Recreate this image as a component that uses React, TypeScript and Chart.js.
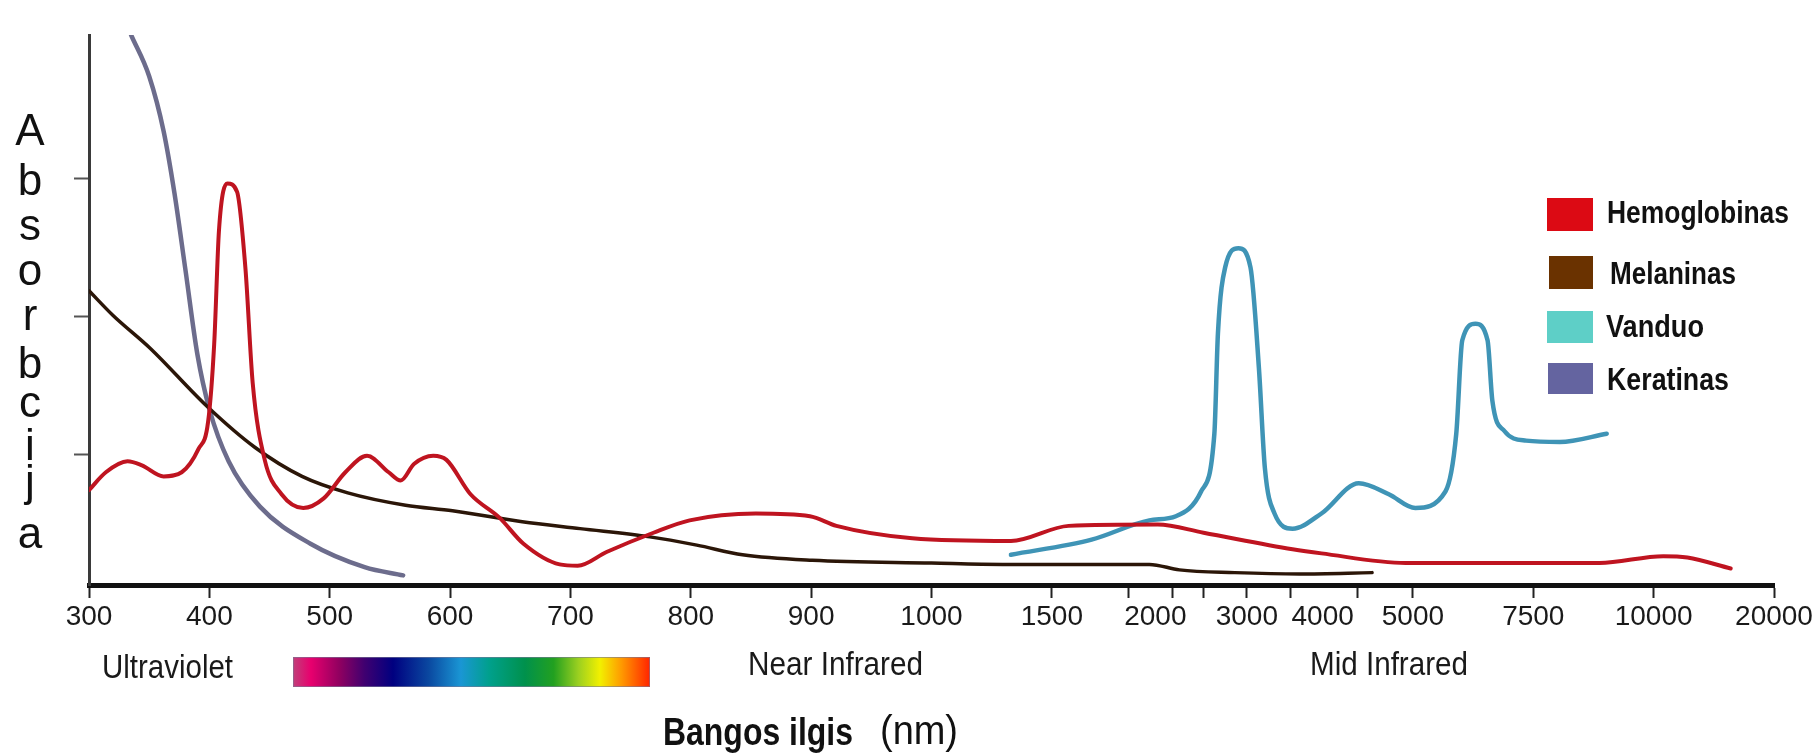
import React, { useEffect, useRef } from 'react';
import { Chart, registerables } from 'chart.js';

Chart.register(...registerables);

// ---- x axis: tick labels (nm) and where each label sits on the (non-uniform) axis ----
const axisWavelengths = [300, 400, 500, 600, 700, 800, 900, 1000, 1500, 2000, 3000, 4000, 5000, 7500, 10000, 20000];
const axisLabelPositions = [0, 1, 2, 3, 4, 5, 6, 7, 8, 8.86, 9.62, 10.25, 11, 12, 13, 14];
const axisTickMarkPositions = [0, 1, 2, 3, 4, 5, 6, 7, 8, 8.64, 9.006, 9.26, 9.62, 9.98, 10.54, 11, 12, 13, 14];
const yTickMarks = [0.95, 1.95, 2.96];

// ---- series ----
const seriesNames = ['Hemoglobinas', 'Melaninas', 'Vanduo', 'Keratinas'];
const lineColors = ['#bf1420', '#2b1608', '#3f94b6', '#6c6c8c'];
const legendColors = ['#dc0a14', '#6a3200', '#5ecfc7', '#6464a0'];

const hemoglobinNm = [300, 314, 332, 344, 362, 377, 391, 399, 404, 408, 415, 423, 430, 436, 446, 460, 478, 495, 513, 531, 549, 559, 570, 586, 597, 617, 641, 661, 691, 706, 730, 769, 799, 854, 899, 921, 984, 1330, 1581, 2026, 2526, 3603, 3984, 4920, 7525, 8875, 10800, 12800, 16400];
const hemoglobinAbs = [0.69, 0.82, 0.90, 0.87, 0.79, 0.82, 0.99, 1.19, 1.75, 2.58, 2.92, 2.86, 2.30, 1.47, 0.91, 0.66, 0.56, 0.63, 0.82, 0.94, 0.82, 0.76, 0.88, 0.94, 0.91, 0.66, 0.49, 0.30, 0.15, 0.14, 0.24, 0.38, 0.47, 0.52, 0.50, 0.43, 0.34, 0.32, 0.43, 0.44, 0.38, 0.26, 0.23, 0.16, 0.16, 0.16, 0.21, 0.20, 0.12];

const melaninNm = [300, 320, 351, 398, 438, 477, 515, 563, 602, 660, 708, 766, 805, 843, 901, 1000, 1295, 1692, 1971, 2263, 2868, 3698, 4547];
const melaninAbs = [2.14, 1.96, 1.72, 1.30, 1.00, 0.79, 0.67, 0.58, 0.54, 0.46, 0.41, 0.35, 0.29, 0.22, 0.18, 0.16, 0.15, 0.15, 0.15, 0.11, 0.09, 0.08, 0.09];

const waterNm = [1330, 1692, 1971, 2224, 2500, 2645, 2684, 2763, 2908, 3048, 3159, 3238, 3365, 3603, 3984, 4400, 4733, 5050, 5675, 5900, 6025, 6300, 6550, 6650, 6900, 7350, 8050, 9025];
const waterAbs = [0.22, 0.33, 0.47, 0.50, 0.68, 1.10, 1.83, 2.31, 2.45, 2.31, 1.58, 0.85, 0.52, 0.41, 0.52, 0.74, 0.66, 0.56, 0.68, 1.10, 1.78, 1.90, 1.78, 1.34, 1.12, 1.05, 1.04, 1.10];

const keratinNm = [335, 350, 362, 371, 380, 390, 400, 416, 442, 484, 529, 561];
const keratinAbs = [4.0, 3.70, 3.30, 2.85, 2.30, 1.68, 1.28, 0.90, 0.57, 0.30, 0.13, 0.07];

const yAxisTitle = 'Absorbcija';
const regionLabels = ['Ultraviolet', 'Near Infrared', 'Mid Infrared'];
const xAxisTitle = 'Bangos ilgis';
const xAxisUnit = '(nm)';

function nmToAxis(nm: number): number {
  const n = axisWavelengths.length;
  for (let i = 0; i < n - 1; i++) {
    if (nm <= axisWavelengths[i + 1] || i === n - 2) {
      const a = axisWavelengths[i], b = axisWavelengths[i + 1];
      const pa = axisLabelPositions[i], pb = axisLabelPositions[i + 1];
      return pa + ((nm - a) / (b - a)) * (pb - pa);
    }
  }
  return 0;
}

type XTick = { value: number; label: string; mark: boolean };
const xTickList: XTick[] = (() => {
  const m = new Map<number, XTick>();
  axisTickMarkPositions.forEach((p) => m.set(p, { value: p, label: '', mark: true }));
  axisLabelPositions.forEach((p, i) => {
    const e = m.get(p);
    if (e) e.label = String(axisWavelengths[i]);
    else m.set(p, { value: p, label: String(axisWavelengths[i]), mark: false });
  });
  return Array.from(m.values()).sort((a, b) => a.value - b.value);
})();

function fontAvailable(name: string): boolean {
  const c = document.createElement('canvas').getContext('2d');
  if (!c) return false;
  const s = 'Hemoglobinas 0123456789 Wmi';
  c.font = '72px monospace';
  const a = c.measureText(s).width;
  c.font = `72px '${name}', monospace`;
  const b = c.measureText(s).width;
  c.font = '72px serif';
  const d = c.measureText(s).width;
  c.font = `72px '${name}', serif`;
  const e = c.measureText(s).width;
  return a !== b || d !== e;
}

const SANS = "'Liberation Sans', Arial, sans-serif";

function drawFitted(ctx: CanvasRenderingContext2D, text: string, left: number, baseline: number, width: number, font: string, color: string) {
  ctx.save();
  ctx.font = font;
  ctx.fillStyle = color;
  ctx.textAlign = 'left';
  ctx.textBaseline = 'alphabetic';
  const w = ctx.measureText(text).width;
  ctx.translate(left, baseline);
  ctx.scale(width / w, 1);
  ctx.fillText(text, 0, 0);
  ctx.restore();
}

const decorPlugin = {
  id: 'decor',
  afterDraw(chart: any) {
    const ctx: CanvasRenderingContext2D = chart.ctx;
    ctx.save();

    // vertical y-axis title, one letter per line
    const letterBaselines = [145, 195, 240, 285, 330, 378, 417, 460, 496, 548];
    ctx.font = `44px ${SANS}`;
    ctx.fillStyle = '#111';
    ctx.textAlign = 'center';
    ctx.textBaseline = 'alphabetic';
    yAxisTitle.split('').forEach((ch, i) => ctx.fillText(ch, 30, letterBaselines[i]));

    // region labels
    const regionBoxes = [
      [102, 678, 131],
      [748, 675, 175],
      [1310, 675, 158],
    ];
    regionLabels.forEach((t, i) => {
      const [l, b, w] = regionBoxes[i];
      drawFitted(ctx, t, l, b, w, `34px ${SANS}`, '#1a1a1a');
    });

    // visible-spectrum bar
    const bx = 293, by = 657, bw = 357, bh = 30;
    const g = ctx.createLinearGradient(bx, 0, bx + bw, 0);
    const stops: [number, string][] = [
      [0, '#c0407a'], [0.05, '#e8006e'], [0.13, '#900060'], [0.2, '#400070'], [0.28, '#000080'],
      [0.38, '#0a48a0'], [0.47, '#1a96d4'], [0.55, '#00a08c'], [0.65, '#00914c'], [0.73, '#22a020'],
      [0.8, '#9cd020'], [0.86, '#f2f000'], [0.92, '#ff9a00'], [1, '#ff2400'],
    ];
    stops.forEach(([o, c]) => g.addColorStop(o, c));
    ctx.fillStyle = g;
    ctx.fillRect(bx, by, bw, bh);
    ctx.strokeStyle = 'rgba(120,120,150,0.6)';
    ctx.lineWidth = 1;
    ctx.strokeRect(bx + 0.5, by + 0.5, bw - 1, bh - 1);

    // x-axis title
    drawFitted(ctx, xAxisTitle, 663, 745, 190, `bold 38px ${SANS}`, '#111');
    drawFitted(ctx, xAxisUnit, 880, 744, 78, `40px ${SANS}`, '#111');

    // legend
    const legendRows = [
      { box: [1547, 198, 46, 33], text: [1607, 223, 182] },
      { box: [1549, 256, 44, 33], text: [1610, 284, 126] },
      { box: [1547, 311, 46, 32], text: [1606, 337, 98] },
      { box: [1548, 363, 45, 31], text: [1607, 390, 122] },
    ];
    legendRows.forEach((r, i) => {
      const [x, y, w, h] = r.box;
      ctx.fillStyle = legendColors[i];
      ctx.fillRect(x, y, w, h);
      const [tl, tb, tw] = r.text;
      drawFitted(ctx, seriesNames[i], tl, tb, tw, `bold 31px ${SANS}`, '#111');
    });

    ctx.restore();
  },
};

export default function App() {
  const canvasRef = useRef<HTMLCanvasElement | null>(null);

  useEffect(() => {
    if (!canvasRef.current) return;
    const narrow = fontAvailable('Liberation Sans Narrow');
    const tickFont = narrow
      ? { family: "'Liberation Sans Narrow'", size: 35 }
      : { family: SANS, size: 28 };

    const series = [
      [hemoglobinNm, hemoglobinAbs, 4],
      [melaninNm, melaninAbs, 3.5],
      [waterNm, waterAbs, 4.5],
      [keratinNm, keratinAbs, 4.5],
    ] as [number[], number[], number][];

    const chart = new Chart(canvasRef.current, {
      type: 'line',
      data: {
        datasets: series.map(([nm, abs, w], i) => ({
          label: seriesNames[i],
          data: nm.map((n, k) => ({ x: nmToAxis(n), y: abs[k] })),
          borderColor: lineColors[i],
          backgroundColor: legendColors[i],
          borderWidth: w,
          pointRadius: 0,
          cubicInterpolationMode: 'monotone' as const,
          borderCapStyle: 'round' as const,
          borderJoinStyle: 'round' as const,
          fill: false,
        })),
      },
      options: {
        animation: false,
        responsive: true,
        maintainAspectRatio: false,
        events: [],
        layout: { padding: { left: 74, right: 46, top: 35, bottom: 0 } },
        plugins: { legend: { display: false }, tooltip: { enabled: false }, title: { display: false } },
        scales: {
          x: {
            type: 'linear',
            min: 0,
            max: 14,
            afterBuildTicks: (s: any) => {
              s.ticks = xTickList.map((t) => ({ value: t.value }));
            },
            afterFit: (s: any) => {
              s.height = 171;
            },
            ticks: {
              autoSkip: false,
              maxRotation: 0,
              minRotation: 0,
              padding: 2,
              color: '#1a1a1a',
              font: tickFont,
              callback: (_v: any, i: number) => (xTickList[i] ? xTickList[i].label : ''),
            },
            grid: {
              drawOnChartArea: false,
              drawTicks: true,
              tickLength: 13,
              tickWidth: 2,
              tickColor: (c: any) => (xTickList[c.index] && xTickList[c.index].mark ? '#222' : 'rgba(0,0,0,0)'),
            },
            border: { display: true, color: '#111', width: 5 },
          },
          y: {
            type: 'linear',
            min: 0,
            max: 4,
            afterBuildTicks: (s: any) => {
              s.ticks = yTickMarks.map((v) => ({ value: v }));
            },
            afterFit: (s: any) => {
              s.width = 15;
            },
            ticks: { display: false },
            grid: { drawOnChartArea: false, drawTicks: true, tickLength: 15, tickWidth: 2, tickColor: '#555' },
            border: { display: true, color: '#3a3a3a', width: 3 },
          },
        },
      },
      plugins: [decorPlugin],
    } as any);

    return () => chart.destroy();
  }, []);

  return (
    <div style={{ position: 'fixed', left: 0, top: 0, width: 1820, height: 756, background: '#fff' }}>
      <canvas ref={canvasRef} />
    </div>
  );
}
